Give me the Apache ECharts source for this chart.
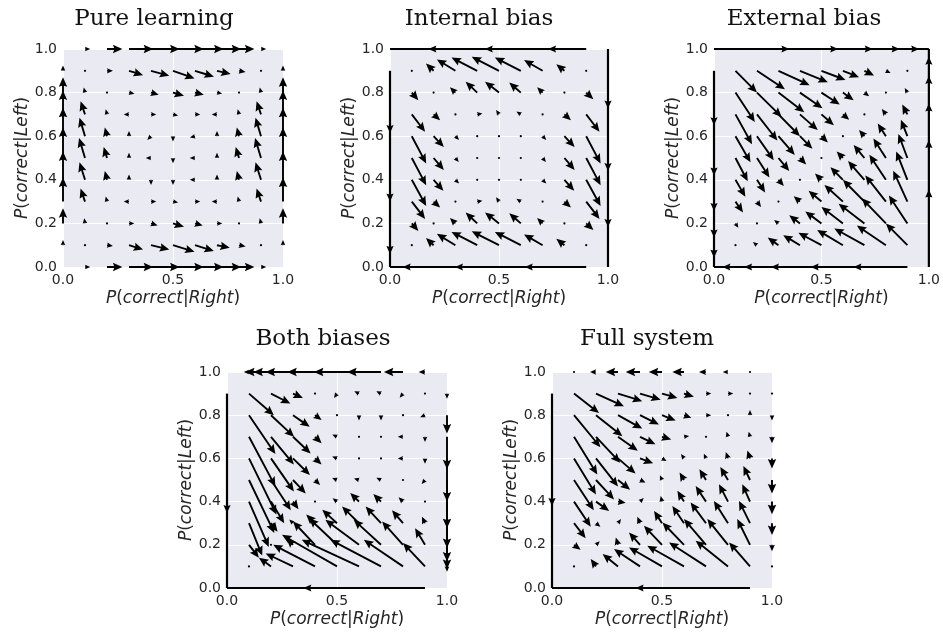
<!DOCTYPE html>
<html><head><meta charset="utf-8">
<script src="https://cdn.jsdelivr.net/npm/echarts/dist/echarts.min.js"></script>
<style>html,body{margin:0;padding:0;background:#fff}#c{width:943px;height:634px}</style>
</head><body><div id="c"></div>
<script>
// ---------------- data ----------------
const gridX = [0, 0.1, 0.2, 0.3, 0.4, 0.5, 0.6, 0.7, 0.8, 0.9, 1.0];
const gridYTopDown = [1.0, 0.9, 0.8, 0.7, 0.6, 0.5, 0.4, 0.3, 0.2, 0.1, 0.0];
const xTicks = [0, 0.5, 1.0];
const yTicks = [0, 0.2, 0.4, 0.6, 0.8, 1.0];
const panelTitles = ['Pure learning', 'Internal bias', 'External bias', 'Both biases', 'Full system'];

// vector fields: rows from y=1.0 down to y=0.0, columns x=0..1, cell = [dx, dy] or 0
const pureField = [
 [0,[.02,0],[.07,0],[.11,0],[.13,0],[.14,0],[.13,0],[.11,0],[.07,0],[.02,0],0],
 [[0,.02],[.004,0],[.027,0],[.064,-.02],[.083,-.023],[.098,-.035],[.086,-.027],[.062,-.015],[.03,-.005],[0,.004],[0,.02]],
 [[0,.07],[-.005,.02],[.004,0],[.025,-.005],[.035,-.01],[.05,-.015],[.04,-.01],[.012,-.003],[.004,0],[-.005,.02],[0,.07]],
 [[0,.11],[-.02,.06],[-.005,.02],[-.012,0],[.015,0],[.02,-.004],[.015,0],[-.012,0],[-.005,.02],[-.02,.06],[0,.11]],
 [[0,.13],[-.025,.085],[-.01,.04],[0,.015],[-.008,-.008],[0,-.012],[-.012,-.003],[0,.015],[-.01,.04],[-.025,.085],[0,.13]],
 [[0,.14],[-.027,.092],[-.015,.05],[0,.015],[-.012,0],[0,-.012],[-.012,0],[0,.015],[-.015,.05],[-.027,.092],[0,.14]],
 [[0,.13],[-.025,.08],[-.01,.04],[0,.015],[0,-.012],[0,-.012],[-.012,0],[0,.015],[-.01,.04],[-.025,.08],[0,.13]],
 [[0,.11],[-.02,.06],[-.005,.02],[-.012,0],[.015,0],[.02,-.004],[.015,0],[-.012,0],[-.005,.02],[-.02,.06],[0,.11]],
 [[0,.07],[-.003,.02],[.004,0],[.022,0],[.03,-.01],[.05,-.015],[.035,-.01],[.012,0],[.004,0],[-.005,.02],[0,.07]],
 [[0,.02],[.004,0],[.027,-.004],[.064,-.02],[.083,-.02],[.098,-.03],[.086,-.027],[.058,-.012],[.03,-.006],[0,.004],[0,.02]],
 [0,[.02,0],[.07,0],[.11,0],[.13,0],[.14,0],[.13,0],[.11,0],[.07,0],[.02,0],0]
];

const internalField = [
 [0,0,0,0,0,0,0,0,0,0,0],
 [0,[.003,0],[-.035,.033],[-.085,.052],[-.118,.061],[-.125,.064],[-.119,.061],[-.085,.049],[-.037,.03],[.003,0],0],
 [0,[.03,-.035],[.003,0],[-.025,.025],[-.053,.05],[-.064,.05],[-.053,.046],[-.025,.025],[.003,0],[.033,-.03],0],
 [0,[.061,-.08],[.03,-.027],[.003,0],[.012,.002],[-.008,.012],[-.012,.008],[.003,0],[.03,-.027],[.061,-.08],0],
 [0,[.066,-.125],[.047,-.05],[.01,-.01],[.002,0],[.002,0],[.002,0],[.01,-.01],[.047,-.05],[.066,-.125],0],
 [0,[.066,-.125],[.047,-.055],[.01,-.012],[.002,0],[.002,0],[.002,0],[.01,-.012],[.047,-.055],[.066,-.125],0],
 [0,[.066,-.12],[.045,-.05],[.01,-.01],[.002,0],[.002,0],[.002,0],[.01,-.01],[.045,-.05],[.066,-.12],0],
 [0,[.061,-.08],[.03,-.027],[.003,0],[.012,.002],[-.008,.012],[-.012,.008],[.003,0],[.03,-.027],[.061,-.08],0],
 [0,[.03,-.035],[.003,0],[-.025,.025],[-.053,.05],[-.064,.05],[-.053,.046],[-.025,.025],[.003,0],[.033,-.03],0],
 [0,[.003,0],[-.035,.033],[-.085,.052],[-.118,.061],[-.125,.064],[-.119,.061],[-.085,.049],[-.037,.03],[.003,0],0],
 [0,0,0,0,0,0,0,0,0,0,0]
];

const externalField = [
 [0,0,0,0,0,0,0,0,0,0,0],
 [0,[.10,-.10],[.13,-.085],[.145,-.066],[.13,-.052],[.112,-.042],[.075,-.03],[.045,-.022],[.017,-.008],[.002,0],0],
 [0,[.09,-.135],[.115,-.112],[.12,-.09],[.105,-.072],[.085,-.055],[.05,-.035],[.022,-.017],[.002,0],[-.012,.02],0],
 [0,[.077,-.137],[.095,-.12],[.1,-.1],[.083,-.072],[.058,-.05],[.029,-.025],[.002,0],[-.019,.025],[-.024,.045],0],
 [0,[.07,-.12],[.078,-.11],[.076,-.086],[.058,-.058],[.03,-.029],[.002,0],[-.025,.029],[-.038,.058],[-.03,.075],0],
 [0,[.057,-.107],[.058,-.09],[.05,-.06],[.029,-.03],[.002,0],[-.029,.03],[-.05,.06],[-.058,.09],[-.042,.11],0],
 [0,[.046,-.078],[.038,-.058],[.025,-.029],[.002,0],[-.03,.029],[-.058,.058],[-.076,.086],[-.077,.115],[-.052,.13],0],
 [0,[.035,-.05],[.019,-.025],[.002,0],[-.029,.025],[-.06,.05],[-.086,.076],[-.1,.1],[-.096,.12],[-.066,.142],0],
 [0,[.013,-.02],[.002,0],[-.02,.016],[-.05,.037],[-.075,.055],[-.1,.075],[-.12,.09],[-.112,.115],[-.086,.128],0],
 [0,[.002,0],[-.015,.012],[-.05,.035],[-.078,.046],[-.107,.057],[-.12,.07],[-.14,.077],[-.135,.09],[-.10,.10],0],
 [0,0,0,0,0,0,0,0,0,0,0]
];

const bothField = [
 [0,[-.018,0],[-.118,0],[-.18,0],[-.225,0],[-.226,0],[-.205,0],[-.154,0],[-.087,0],[-.029,0],0],
 [0,[.113,-.1],[.088,-.046],[.045,-.02],[.002,0],[-.008,-.012],[-.02,.01],[-.02,.01],[-.008,-.01],[.002,0],[0,-.02]],
 [0,[.12,-.18],[.105,-.1],[.076,-.054],[.03,-.022],[.002,0],[0,-.006],[0,-.006],[.002,0],[-.012,-.005],[0,-.085]],
 [0,[.12,-.23],[.104,-.128],[.08,-.077],[.03,-.03],[-.01,.005],[.002,0],[.002,0],[-.005,0],[0,-.023],[0,-.15]],
 [0,[.125,-.26],[.104,-.153],[.077,-.077],[.03,-.028],[-.012,.005],[.002,0],[.002,0],[-.006,0],[0,-.025],[0,-.2]],
 [0,[.115,-.245],[.09,-.14],[.058,-.062],[.023,-.023],[-.01,.004],[-.01,.003],[-.01,.005],[.002,0],[-.008,-.01],[0,-.223]],
 [0,[.09,-.21],[.06,-.1],[.025,-.035],[.002,0],[-.02,.015],[-.04,.04],[-.035,.035],[-.02,.02],[.002,0],[0,-.215]],
 [0,[.06,-.15],[.03,-.04],[-.01,.01],[-.04,.04],[-.067,.062],[-.077,.077],[-.07,.077],[-.05,.06],[-.014,.03],[0,-.177]],
 [0,[.045,-.06],[.003,.003],[-.03,.03],[-.1,.108],[-.127,.123],[-.153,.116],[-.124,.116],[-.095,.108],[-.045,.077],[0,-.112]],
 [0,[.003,-.003],[-.055,.04],[-.124,.06],[-.19,.1],[-.25,.146],[-.26,.123],[-.23,.123],[-.178,.123],[-.1,.108],[0,-.02]],
 [0,0,0,0,0,0,0,0,0,0,0]
];

const fullField = [
 [0,[-.003,0],[-.027,0],[-.056,0],[-.065,0],[-.06,0],[-.053,0],[-.032,0],[-.01,0],[-.002,0],0],
 [0,[.114,-.09],[.127,-.059],[.11,-.035],[.094,-.028],[.07,-.02],[.045,-.015],[.02,0],[.006,0],[.002,0],[0,-.002]],
 [0,[.12,-.148],[.12,-.097],[.11,-.062],[.086,-.043],[.062,-.025],[.033,-.012],[.013,0],[.002,0],[0,.008],[0,-.008]],
 [0,[.106,-.175],[.11,-.12],[.09,-.065],[.07,-.035],[.042,-.012],[.015,.002],[.003,.003],[-.003,.01],[-.005,.02],[0,-.03]],
 [0,[.1,-.167],[.1,-.13],[.08,-.07],[.06,-.023],[.02,-.012],[-.004,.006],[-.008,.018],[-.01,.03],[-.012,.037],[0,-.047]],
 [0,[.09,-.14],[.082,-.09],[.055,-.045],[.025,-.012],[-.005,.012],[-.02,.035],[-.03,.05],[-.035,.06],[-.03,.065],[0,-.062]],
 [0,[.076,-.116],[.06,-.043],[.035,-.005],[.01,.01],[-.006,.026],[-.03,.05],[-.047,.072],[-.041,.08],[-.035,.08],[0,-.058]],
 [0,[.053,-.07],[.02,-.017],[.004,.006],[-.012,.03],[-.036,.057],[-.053,.08],[-.07,.096],[-.064,.103],[-.05,.103],[0,-.055]],
 [0,[.03,-.023],[.006,.006],[-.01,.034],[-.05,.057],[-.082,.088],[-.098,.103],[-.1,.119],[-.094,.119],[-.058,.119],[0,-.03]],
 [0,[.003,-.003],[-.024,.034],[-.07,.057],[-.118,.08],[-.15,.088],[-.167,.096],[-.168,.111],[-.147,.119],[-.095,.111],[0,-.002]],
 [0,0,0,0,0,0,0,0,0,0,0]
];

// boundary trajectories: lines [x0,y0,x1,y1] and arrow heads [tipX, tipY, dirX, dirY]
const pureEdgeLines = [];
const pureEdgeHeads = [];
const internalEdgeLines = [[0,1,0.9,1],[0,0,0.9,0],[0,0,0,0.9],[1,0,1,1]];
const internalEdgeHeads = [
 [0.725,1,-1,0],[0.435,1,-1,0],[0.176,1,-1,0],
 [0.618,0,-1,0],[0.298,0,-1,0],[0.058,0,-1,0],
 [0,0.615,0,-1],[0,0.30,0,-1],[0,0.06,0,-1],
 [1,0.727,0,-1],[1,0.44,0,-1],[1,0.183,0,-1]
];
const externalEdgeLines = [[0,1,1,1],[1,0,1,1],[0,0,0,0.9],[0,0,0.9,0]];
const externalEdgeHeads = [
 [0.351,1,1,0],[0.578,1,1,0],[0.739,1,1,0],[0.864,1,1,0],[0.955,1,1,0],
 [1,0.355,0,1],[1,0.582,0,1],[1,0.75,0,1],[1,0.876,0,1],[1,0.965,0,1],
 [0,0.65,0,-1],[0,0.42,0,-1],[0,0.257,0,-1],[0,0.135,0,-1],[0,0.043,0,-1],
 [0.039,0,-1,0],[0.14,0,-1,0],[0.265,0,-1,0],[0.45,0,-1,0],[0.649,0,-1,0]
];
const bothEdgeLines = [[0,0,0,0.9],[0,0,0.9,0]];
const bothEdgeHeads = [[0,0.347,0,-1],[0.347,0,-1,0]];
const fullEdgeLines = [[0,0,0,0.9],[0,0,0.9,0]];
const fullEdgeHeads = [[0,0.38,0,-1],[0.38,0,-1,0]];

const panelFields = [pureField, internalField, externalField, bothField, fullField];
const panelEdgeLines = [pureEdgeLines, internalEdgeLines, externalEdgeLines, bothEdgeLines, fullEdgeLines];
const panelEdgeHeads = [pureEdgeHeads, internalEdgeHeads, externalEdgeHeads, bothEdgeHeads, fullEdgeHeads];

// ---------------- layout / style ----------------
const layout = [
 {left: 63, top: 49, width: 220, height: 218, tx: 154, ty: 19},
 {left: 390, top: 49, width: 218, height: 218, tx: 479, ty: 19},
 {left: 714, top: 49, width: 221, height: 218, tx: 804, ty: 19},
 {left: 227, top: 372, width: 220, height: 216, tx: 323, ty: 339},
 {left: 552, top: 372, width: 220, height: 216, tx: 647, ty: 339}
];
const SW = 0.95, HW = 4.2, HL = 9.5, HAL = 8.3;
const EHW = 3.6, EHL = 8, EHAL = 6.8;
const MIN_SCALE = 0.55;

function fieldToData(field) {
  const out = [];
  field.forEach((row, r) => row.forEach((cell, c) => {
    if (cell) out.push([gridX[c], gridYTopDown[r], cell[0], cell[1]]);
  }));
  return out;
}

function arrowShape(p0, p1) {
  const ddx = p1[0] - p0[0], ddy = p1[1] - p0[1];
  const L = Math.hypot(ddx, ddy);
  if (L < 1) return {type: 'circle', shape: {cx: p0[0], cy: p0[1], r: 1.1}, style: {fill: '#000'}};
  const ux = ddx / L, uy = ddy / L, nx = -uy, ny = ux;
  let s = 1, Lc = L;
  if (L < HL) { s = Math.max(L / HL, MIN_SCALE); Lc = HL; }
  const pts = [[0,-SW],[Lc-HAL,-SW],[Lc-HL,-HW],[Lc,0],[Lc-HL,HW],[Lc-HAL,SW],[0,SW]];
  return {type: 'polygon', shape: {points: pts.map(([a,b]) => [p0[0] + (ux*a + nx*b)*s, p0[1] + (uy*a + ny*b)*s])}, style: {fill: '#000'}};
}

function headShape(tip, dir) {
  const ux = dir[0], uy = dir[1], nx = -uy, ny = ux;
  const pts = [[0,0],[-EHL,-EHW],[-EHAL,0],[-EHL,EHW]];
  return {type: 'polygon', shape: {points: pts.map(([a,b]) => [tip[0] + ux*a + nx*b, tip[1] + uy*a + ny*b])}, style: {fill: '#000'}};
}

const tickColor = '#262626';
const labelRich = {
  n: {fontFamily: 'DejaVu Sans', fontSize: 17, color: tickColor},
  i: {fontFamily: 'DejaVu Sans', fontSize: 17, fontStyle: 'italic', color: tickColor}
};

const grids = [], xAxes = [], yAxes = [], series = [];
layout.forEach((g, i) => {
  grids.push({left: g.left, top: g.top, width: g.width, height: g.height, show: true,
    backgroundColor: '#EAEAF2', borderWidth: 0, containLabel: false});
  xAxes.push({type: 'value', gridIndex: i, min: 0, max: 1, interval: 0.5,
    axisLine: {show: false}, axisTick: {show: false},
    splitLine: {show: true, lineStyle: {color: '#ffffff', width: 1}},
    axisLabel: {showMinLabel: true, showMaxLabel: true, margin: 6, color: tickColor, fontSize: 14, fontFamily: 'DejaVu Sans',
      formatter: v => { const k = xTicks.findIndex(t => Math.abs(t - v) < 1e-9); return k >= 0 ? xTicks[k].toFixed(1) : ''; }},
    name: '{i|P}{n|(}{i|correct}{n||}{i|Right}{n|)}', nameLocation: 'middle', nameGap: 23,
    nameTextStyle: {rich: labelRich, fontSize: 17, fontFamily: 'DejaVu Sans'}});
  yAxes.push({type: 'value', gridIndex: i, min: 0, max: 1, interval: 0.2,
    axisLine: {show: false}, axisTick: {show: false},
    splitLine: {show: true, lineStyle: {color: '#ffffff', width: 1}},
    axisLabel: {showMinLabel: true, showMaxLabel: true, margin: 6, color: tickColor, fontSize: 14, fontFamily: 'DejaVu Sans',
      formatter: v => { const k = yTicks.findIndex(t => Math.abs(t - v) < 1e-9); return k >= 0 ? yTicks[k].toFixed(1) : ''; }},
    name: '{i|P}{n|(}{i|correct}{n||}{i|Left}{n|)}', nameLocation: 'middle', nameGap: 28, nameRotate: 90,
    nameTextStyle: {rich: labelRich, fontSize: 17, fontFamily: 'DejaVu Sans'}});

  series.push({type: 'custom', xAxisIndex: i, yAxisIndex: i, clip: false, silent: true,
    data: panelEdgeLines[i], encode: {x: [0, 2], y: [1, 3]},
    renderItem: (params, api) => {
      const a = api.coord([api.value(0), api.value(1)]), b = api.coord([api.value(2), api.value(3)]);
      return {type: 'line', shape: {x1: a[0], y1: a[1], x2: b[0], y2: b[1]}, style: {stroke: '#000', lineWidth: 2.2}};
    }});
  series.push({type: 'custom', xAxisIndex: i, yAxisIndex: i, clip: false, silent: true,
    data: fieldToData(panelFields[i]), encode: {x: 0, y: 1},
    renderItem: (params, api) => {
      const x = api.value(0), y = api.value(1), dx = api.value(2), dy = api.value(3);
      return arrowShape(api.coord([x, y]), api.coord([x + dx, y + dy]));
    }});
  series.push({type: 'custom', xAxisIndex: i, yAxisIndex: i, clip: false, silent: true,
    data: panelEdgeHeads[i], encode: {x: 0, y: 1},
    renderItem: (params, api) => {
      const tip = api.coord([api.value(0), api.value(1)]);
      return headShape(tip, [api.value(2), -api.value(3)]);
    }});
});

const chart = echarts.init(document.getElementById('c'), null, {renderer: 'canvas'});
chart.setOption({
  backgroundColor: '#ffffff',
  animation: false,
  grid: grids, xAxis: xAxes, yAxis: yAxes, series: series,
  graphic: layout.map((g, i) => ({type: 'text', x: g.tx, y: g.ty, silent: true,
    style: {text: panelTitles[i], fontFamily: 'DejaVu Serif', fontSize: 23, fill: '#111', align: 'center', verticalAlign: 'middle'}}))
});
</script></body></html>
